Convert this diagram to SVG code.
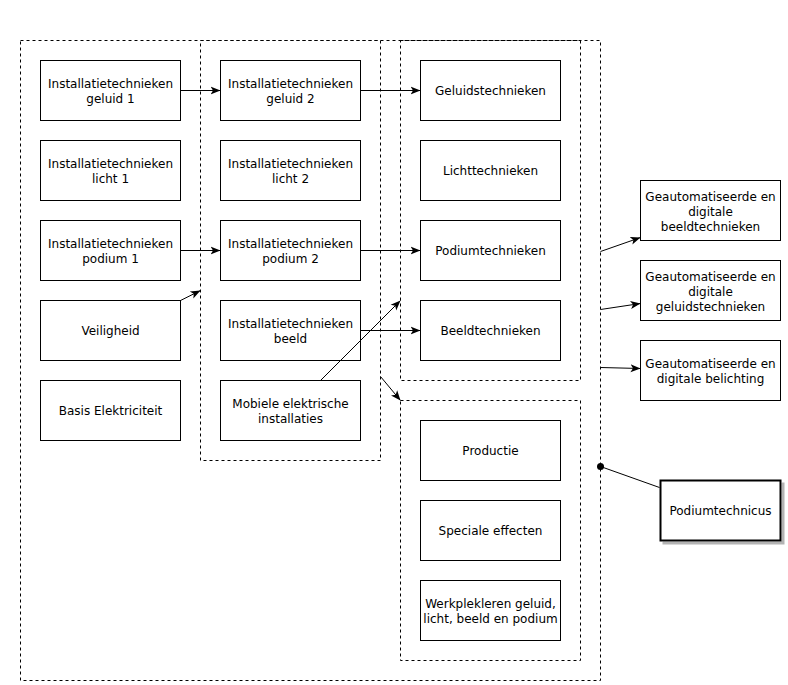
<svg xmlns="http://www.w3.org/2000/svg" width="788" height="685" viewBox="0 0 788 685">
<style>
.c{fill:none;stroke:#000;stroke-width:1;stroke-dasharray:3 3}
.n{fill:#fff;stroke:#000;stroke-width:1}
.t{font-family:"DejaVu Sans",Verdana,sans-serif;font-size:12px;fill:#000;text-anchor:middle}
.e{fill:none;stroke:#000;stroke-width:1}
</style>
<defs>
<marker id="a" viewBox="0 0 10 10" refX="10" refY="5" markerWidth="10" markerHeight="10" markerUnits="userSpaceOnUse" orient="auto">
<path d="M0,1 L10,5 L0,9 L2.5,5 Z" fill="#000"/>
</marker>
<filter id="sh" x="-10%" y="-10%" width="130%" height="130%">
<feOffset dx="3" dy="3" in="SourceAlpha" result="o"/>
<feFlood flood-color="#808080" flood-opacity="0.6"/>
<feComposite in2="o" operator="in" result="s"/>
<feMerge><feMergeNode in="s"/><feMergeNode in="SourceGraphic"/></feMerge>
</filter>
</defs>
<rect width="788" height="685" fill="#fff"/>
<g transform="translate(0.5,0.5)">
<g id="containers">
<rect id="outer" class="c" x="20" y="40" width="580" height="640"/>
<rect id="col2" class="c" x="200" y="40" width="180" height="420"/>
<rect id="col3top" class="c" x="400" y="40" width="180" height="340"/>
<rect id="col3bottom" class="c" x="400" y="400" width="180" height="260"/>
</g>
<g id="n1"><rect class="n" x="40" y="60" width="140" height="60"/><text class="t" x="110" y="87">Installatietechnieken</text><text class="t" x="110" y="102">geluid 1</text></g>
<g id="n2"><rect class="n" x="40" y="140" width="140" height="60"/><text class="t" x="110" y="167">Installatietechnieken</text><text class="t" x="110" y="182">licht 1</text></g>
<g id="n3"><rect class="n" x="40" y="220" width="140" height="60"/><text class="t" x="110" y="247">Installatietechnieken</text><text class="t" x="110" y="262">podium 1</text></g>
<g id="n4"><rect class="n" x="40" y="300" width="140" height="60"/><text class="t" x="110" y="334">Veiligheid</text></g>
<g id="n5"><rect class="n" x="40" y="380" width="140" height="60"/><text class="t" x="110" y="414">Basis Elektriciteit</text></g>
<g id="n6"><rect class="n" x="220" y="60" width="140" height="60"/><text class="t" x="290" y="87">Installatietechnieken</text><text class="t" x="290" y="102">geluid 2</text></g>
<g id="n7"><rect class="n" x="220" y="140" width="140" height="60"/><text class="t" x="290" y="167">Installatietechnieken</text><text class="t" x="290" y="182">licht 2</text></g>
<g id="n8"><rect class="n" x="220" y="220" width="140" height="60"/><text class="t" x="290" y="247">Installatietechnieken</text><text class="t" x="290" y="262">podium 2</text></g>
<g id="n9"><rect class="n" x="220" y="300" width="140" height="60"/><text class="t" x="290" y="327">Installatietechnieken</text><text class="t" x="290" y="342">beeld</text></g>
<g id="n10"><rect class="n" x="220" y="380" width="140" height="60"/><text class="t" x="290" y="407">Mobiele elektrische</text><text class="t" x="290" y="422">installaties</text></g>
<g id="n11"><rect class="n" x="420" y="60" width="140" height="60"/><text class="t" x="490" y="94">Geluidstechnieken</text></g>
<g id="n12"><rect class="n" x="420" y="140" width="140" height="60"/><text class="t" x="490" y="174">Lichttechnieken</text></g>
<g id="n13"><rect class="n" x="420" y="220" width="140" height="60"/><text class="t" x="490" y="254">Podiumtechnieken</text></g>
<g id="n14"><rect class="n" x="420" y="300" width="140" height="60"/><text class="t" x="490" y="334">Beeldtechnieken</text></g>
<g id="n15"><rect class="n" x="420" y="420" width="140" height="60"/><text class="t" x="490" y="454">Productie</text></g>
<g id="n16"><rect class="n" x="420" y="500" width="140" height="60"/><text class="t" x="490" y="534">Speciale effecten</text></g>
<g id="n17"><rect class="n" x="420" y="580" width="140" height="60"/><text class="t" x="490" y="607">Werkplekleren geluid,</text><text class="t" x="490" y="622">licht, beeld en podium</text></g>
<g id="n18"><rect class="n" x="640" y="180" width="140" height="60"/><text class="t" x="710" y="200">Geautomatiseerde en</text><text class="t" x="710" y="215">digitale</text><text class="t" x="710" y="230">beeldtechnieken</text></g>
<g id="n19"><rect class="n" x="640" y="260" width="140" height="60"/><text class="t" x="710" y="280">Geautomatiseerde en</text><text class="t" x="710" y="295">digitale</text><text class="t" x="710" y="310">geluidstechnieken</text></g>
<g id="n20"><rect class="n" x="640" y="340" width="140" height="60"/><text class="t" x="710" y="367">Geautomatiseerde en</text><text class="t" x="710" y="382">digitale belichting</text></g>
<g id="n21"><rect x="660" y="480" width="120" height="60" fill="#fff" stroke="#000" stroke-width="2" filter="url(#sh)"/><text class="t" x="720" y="514">Podiumtechnicus</text></g>
<g id="connectors">
<path class="e" d="M180,90 L220,90" marker-end="url(#a)"/>
<path class="e" d="M180,250 L220,250" marker-end="url(#a)"/>
<path class="e" d="M360,90 L420,90" marker-end="url(#a)"/>
<path class="e" d="M360,250 L420,250" marker-end="url(#a)"/>
<path class="e" d="M360,330 L420,330" marker-end="url(#a)"/>
<path class="e" d="M180,300 L200,290" marker-end="url(#a)"/>
<path class="e" d="M320,380 L400,300" marker-end="url(#a)"/>
<path class="e" d="M380,376 L400,400" marker-end="url(#a)"/>
<path class="e" d="M600,251 L640,237" marker-end="url(#a)"/>
<path class="e" d="M600,309 L640,303" marker-end="url(#a)"/>
<path class="e" d="M600,367 L640,368" marker-end="url(#a)"/>
<path class="e" d="M659,487 L600,466"/>
<circle cx="600" cy="466" r="3.5" fill="#000"/>
</g>
</g>
</svg>
